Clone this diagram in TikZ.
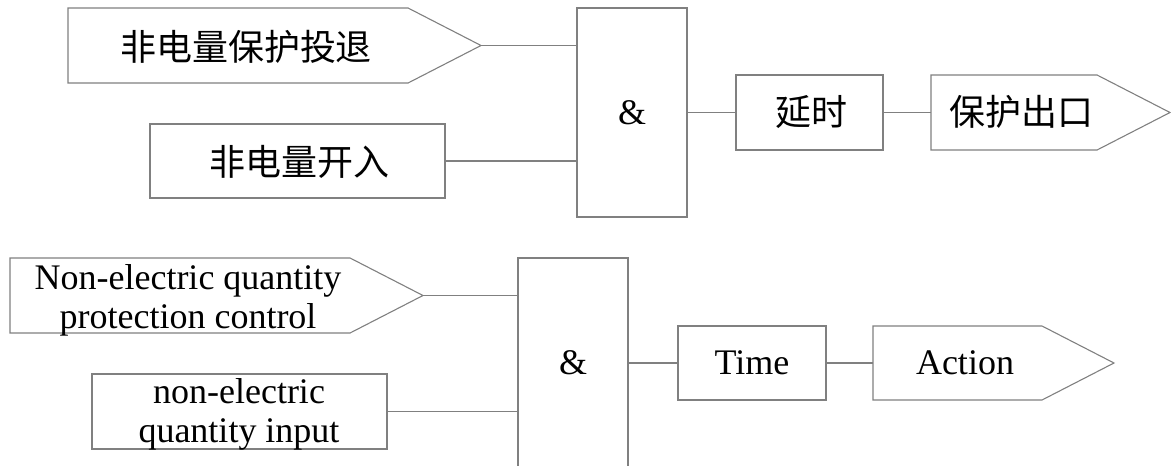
\documentclass[tikz,border=0pt]{standalone}
\usepackage{fontspec}
\setmainfont{Liberation Serif}
\newfontfamily\cjkfont{Noto Sans CJK SC}
\usetikzlibrary{shapes.symbols}
\definecolor{linegray}{RGB}{128,128,128}
\begin{document}
\begin{tikzpicture}[x=1pt,y=-1pt,
  conn/.style={draw=linegray, line width=1.1pt},
  box/.style={draw=linegray, line width=1.1pt, rectangle, inner sep=0pt, outer sep=0pt,
    font=\fontsize{36}{39}\selectfont, align=center},
  arrowbox/.style={draw=linegray, line width=1.1pt, signal, signal to=east,
    signal pointer angle=54.4, inner sep=0pt, outer sep=0pt, anchor=west},
  txt/.style={font=\fontsize{36}{39}\selectfont, inner sep=0pt, align=center},
  cjk/.style={font=\cjkfont\fontsize{36}{39}\selectfont, inner sep=0pt}
]
\useasboundingbox (0,0) rectangle (1171,466);
\clip (0,0) rectangle (1171,466);

% ---------- upper diagram (Chinese) ----------
\node[arrowbox, minimum width=413pt, minimum height=75pt] (p1) at (68,45.5) {};
\node[cjk] (p1t) at (246,47) {非电量保护投退};
\node[box, minimum width=295pt, minimum height=74pt] (r2) at (297.5,161) {};
\node[cjk] (r2t) at (299.5,161.5) {非电量开入};
\node[box, minimum width=110pt, minimum height=209pt] (and1) at (632,112.5) {\&};
\node[box, minimum width=147pt, minimum height=75pt] (d1) at (809.5,112.5) {};
\node[cjk] (d1t) at (811,112) {延时};
\node[arrowbox, minimum width=239pt, minimum height=75pt] (o1) at (931,112.5) {};
\node[cjk] (o1t) at (1021,112) {保护出口};

\draw[conn] (p1.east) -- (p1.east -| and1.west);
\draw[conn] (r2.east) -- (r2.east -| and1.west);
\draw[conn] (and1.east |- d1.west) -- (d1.west);
\draw[conn] (d1.east) -- (o1.west);

% ---------- lower diagram (English) ----------
\node[arrowbox, minimum width=413pt, minimum height=75pt] (p3) at (10,295.5) {};
\node[txt] (p3t) at (188,300) {Non-electric quantity\\protection control};
\node[box, minimum width=295pt, minimum height=75pt] (r4) at (239.5,411.5) {};
\node[txt] (r4t) at (239,414) {non-electric\\quantity input};
\node[box, minimum width=110pt, minimum height=210pt] (and2) at (573,363) {\&};
\node[box, minimum width=148pt, minimum height=74pt] (tm) at (752,363) {Time};
\node[arrowbox, minimum width=241pt, minimum height=74pt] (act) at (873,363) {};
\node[txt] (actt) at (965,363) {Action};

\draw[conn] (p3.east) -- (p3.east -| and2.west);
\draw[conn] (r4.east) -- (r4.east -| and2.west);
\draw[conn] (and2.east |- tm.west) -- (tm.west);
\draw[conn] (tm.east) -- (act.west);
\end{tikzpicture}
\end{document}
